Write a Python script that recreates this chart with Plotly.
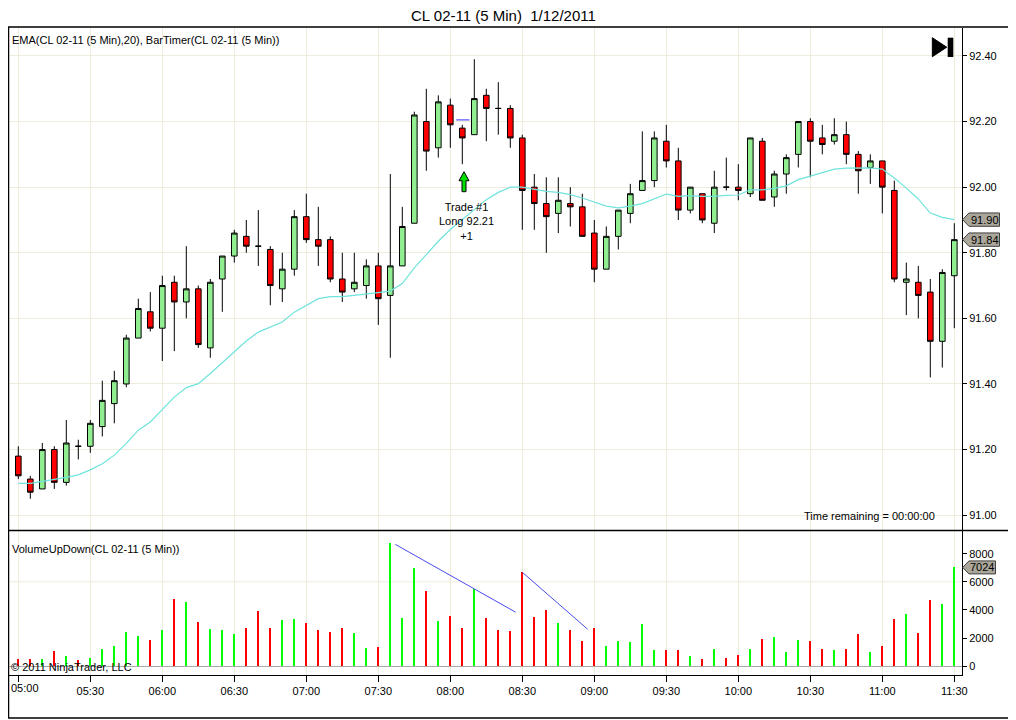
import plotly.graph_objects as go

# ---------------------------------------------------------------
# data: CL 02-11, 5 min bars, 1/12/2011 05:00-11:30
# ---------------------------------------------------------------
TIME_LABELS = ["05:00", "05:30", "06:00", "06:30", "07:00", "07:30", "08:00",
               "08:30", "09:00", "09:30", "10:00", "10:30", "11:00", "11:30"]

opens = [91.18, 91.11, 91.08, 91.20, 91.10, 91.21, 91.21, 91.27, 91.34, 91.40,
         91.54, 91.62, 91.57, 91.71, 91.65, 91.69, 91.51, 91.72, 91.79, 91.85,
         91.82, 91.81, 91.69, 91.75, 91.91, 91.84, 91.84, 91.72, 91.69, 91.70,
         91.76, 91.67, 91.76, 91.89, 92.20, 92.12, 92.25, 92.18, 92.16, 92.28,
         92.24, 92.24, 92.15, 92.00, 91.95, 91.92, 91.95, 91.94, 91.86, 91.75,
         91.85, 91.92, 91.99, 92.02, 92.14, 92.08, 91.93, 91.98, 91.89, 92.00,
         92.00, 91.98, 92.14, 91.97, 92.04, 92.10, 92.20, 92.15, 92.14, 92.16,
         92.10, 92.06, 92.08, 91.99, 91.71, 91.71, 91.68, 91.53, 91.73]
highs = [91.21, 91.12, 91.22, 91.21, 91.29, 91.23, 91.29, 91.41, 91.44, 91.55,
         91.66, 91.68, 91.73, 91.73, 91.82, 91.70, 91.72, 91.79, 91.87, 91.90,
         91.93, 91.82, 91.80, 91.93, 91.98, 91.94, 91.85, 91.80, 91.80, 91.78,
         91.80, 92.04, 91.94, 92.23, 92.30, 92.28, 92.27, 92.19, 92.39, 92.30,
         92.32, 92.25, 92.16, 92.04, 92.03, 92.03, 92.00, 91.98, 91.90, 91.88,
         91.93, 92.01, 92.17, 92.17, 92.19, 92.12, 92.00, 91.98, 92.05, 92.09,
         92.07, 92.15, 92.15, 92.05, 92.10, 92.20, 92.21, 92.19, 92.21, 92.20,
         92.11, 92.10, 92.08, 92.02, 91.77, 91.76, 91.72, 91.75, 91.89]
lows = [91.11, 91.05, 91.08, 91.08, 91.09, 91.17, 91.19, 91.24, 91.28, 91.39,
        91.54, 91.56, 91.47, 91.50, 91.60, 91.51, 91.48, 91.62, 91.77, 91.80,
        91.76, 91.64, 91.65, 91.73, 91.83, 91.76, 91.71, 91.65, 91.68, 91.66,
        91.58, 91.48, 91.76, 91.89, 92.05, 92.09, 92.12, 92.07, 92.16, 92.14,
        92.16, 92.12, 91.87, 91.87, 91.80, 91.86, 91.88, 91.85, 91.71, 91.75,
        91.81, 91.89, 91.99, 92.00, 92.06, 91.90, 91.92, 91.89, 91.86, 91.99,
        91.96, 91.97, 91.96, 91.94, 91.98, 92.06, 92.03, 92.10, 92.13, 92.07,
        91.98, 92.01, 91.92, 91.71, 91.61, 91.60, 91.42, 91.45, 91.57]
closes = [91.12, 91.07, 91.20, 91.10, 91.22, 91.21, 91.28, 91.35, 91.41, 91.54,
          91.63, 91.57, 91.70, 91.65, 91.69, 91.52, 91.71, 91.79, 91.86, 91.82,
          91.82, 91.70, 91.75, 91.91, 91.84, 91.82, 91.72, 91.68, 91.71, 91.76,
          91.66, 91.76, 91.88, 92.22, 92.11, 92.26, 92.19, 92.15, 92.27, 92.24,
          92.24, 92.15, 91.99, 91.95, 91.91, 91.96, 91.94, 91.85, 91.75, 91.85,
          91.93, 91.98, 92.02, 92.15, 92.08, 91.93, 92.00, 91.90, 92.00, 92.00,
          91.99, 92.15, 91.96, 92.04, 92.09, 92.20, 92.14, 92.13, 92.16, 92.10,
          92.05, 92.08, 92.00, 91.72, 91.72, 91.67, 91.53, 91.74, 91.84]

# EMA(20) as drawn on the chart
ema20 = [91.097, 91.097, 91.103, 91.108, 91.115, 91.123, 91.138, 91.157, 91.183,
         91.219, 91.259, 91.284, 91.323, 91.360, 91.389, 91.401, 91.432, 91.466,
         91.500, 91.531, 91.558, 91.574, 91.589, 91.619, 91.639, 91.660, 91.666,
         91.666, 91.670, 91.674, 91.678, 91.683, 91.706, 91.754, 91.794, 91.835,
         91.871, 91.901, 91.931, 91.962, 91.984, 92.000, 92.000, 91.994, 91.987,
         91.984, 91.977, 91.967, 91.954, 91.942, 91.937, 91.942, 91.950, 91.964,
         91.979, 91.972, 91.974, 91.972, 91.972, 91.975, 91.976, 91.992, 91.992,
         91.996, 92.004, 92.023, 92.033, 92.043, 92.055, 92.058, 92.058, 92.059,
         92.055, 92.028, 91.997, 91.964, 91.921, 91.908, 91.901]

volume = [450, 520, 450, 1020, 730, 380, 590, 1230, 1440, 2370,
          2150, 1800, 2510, 4780, 4500, 3080, 2650, 2580, 2230, 2720,
          3930, 2720, 3290, 3360, 3010, 2510, 2370, 2720, 2300, 1300,
          1370, 8690, 3430, 6980, 5350, 3220, 3570, 2720, 5490, 3430,
          2510, 2440, 6650, 3500, 4000, 3010, 2510, 1730, 2720, 1440,
          1730, 1660, 2940, 1160, 1090, 1090, 730, 520, 1230, 590,
          800, 1230, 1940, 2080, 950, 1870, 1730, 1230, 1090, 1230,
          2230, 950, 1440, 3360, 3650, 2300, 4710, 4360, 7024]

# trade #1 (long 92.21 on the 08:05 bar) and the two lines drawn on volume
TRADE_BAR = 37
TRADE_PRICE = 92.21
vol_line1_x = [31.42, 41.45]
vol_line1_y = [8660, 3840]
vol_line2_x = [42.0, 47.45]
vol_line2_y = [6680, 2630]

PRICE_TICKS = [91.00, 91.20, 91.40, 91.60, 91.80, 92.00, 92.20, 92.40]
VOL_TICKS = [0, 2000, 4000, 6000, 8000]

# ---------------------------------------------------------------
# geometry, in screen pixels of the 1016x720 window
# (the page body has an 8px margin, so the figure starts at 8,8)
# ---------------------------------------------------------------
W, H = 1016, 720
SHIFT = 8
PL, R, T, B = 8, 962, 28, 675         # plot area on screen
PX_PER_BAR = 12.0
X0_PX = 18.3                          # centre of bar 0
PRICE_PER_PX = 0.2 / 65.73
P_REF, P_REF_PX = 92.40, 56.0
VOL_PER_PX = 8000 / 112.6
VOL0_PX = 666.3
SPLIT_PX = 530.5

bars = list(range(len(opens)))


def px_x(px):
    return (px - X0_PX) / PX_PER_BAR


def px_price(py):
    return P_REF - (py - P_REF_PX) * PRICE_PER_PX


def px_vol(py):
    return (VOL0_PX - py) * VOL_PER_PX


def paper_x(px):
    return (px - PL) / (R - PL)


def paper_y(py):
    return (B - py) / (B - T)


GRID = "#efecdc"
GREEN_BODY = "#90ee90"
RED = "#ff0000"
LIME = "#00ff00"
FONT = "Liberation Sans"

fig = go.Figure()

fig.add_trace(go.Candlestick(
    x=bars, open=opens, high=highs, low=lows, close=closes,
    increasing=dict(line=dict(color="black", width=1), fillcolor=GREEN_BODY),
    decreasing=dict(line=dict(color="black", width=1), fillcolor=RED),
    whiskerwidth=0, showlegend=False, xaxis="x", yaxis="y",
))

fig.add_trace(go.Scatter(
    x=bars, y=ema20, mode="lines", line=dict(color="#6fe3dc", width=1.2),
    showlegend=False, hoverinfo="skip", xaxis="x", yaxis="y",
))

# entry marker line
fig.add_trace(go.Scatter(
    x=[TRADE_BAR - 0.5, TRADE_BAR + 0.6], y=[TRADE_PRICE - 0.005] * 2,
    mode="lines", line=dict(color="#3030ff", width=1),
    showlegend=False, hoverinfo="skip", xaxis="x", yaxis="y",
))

vol_colors = [LIME if c > o else RED for o, c in zip(opens, closes)]
fig.add_trace(go.Bar(
    x=bars, y=volume, width=0.17, marker=dict(color=vol_colors, line_width=0),
    showlegend=False, xaxis="x2", yaxis="y2",
))

for lx, ly in [(vol_line1_x, vol_line1_y), (vol_line2_x, vol_line2_y)]:
    fig.add_trace(go.Scatter(
        x=lx, y=ly, mode="lines", line=dict(color="#4a4af0", width=1),
        showlegend=False, hoverinfo="skip", xaxis="x2", yaxis="y2",
    ))

tick_bars = [i * 6 for i in range(len(TIME_LABELS))]
# the first label would spill past the left edge, it is drawn as an annotation
tick_text = [""] + TIME_LABELS[1:]
x_range = [px_x(PL), px_x(R)]
split_top = paper_y(SPLIT_PX)

fig.update_layout(
    width=W - SHIFT, height=H - SHIFT,
    margin=dict(l=PL - SHIFT, r=W - R, t=T - SHIFT, b=H - B, pad=0),
    paper_bgcolor="white", plot_bgcolor="white",
    font=dict(family=FONT, size=11, color="black"),
    boxgap=0.33,
    bargap=0,
    xaxis=dict(domain=[0, 1], range=x_range, anchor="y",
               tickvals=tick_bars, showticklabels=False, ticks="",
               showgrid=True, gridcolor=GRID, gridwidth=1,
               zeroline=False, showline=False,
               rangeslider=dict(visible=False)),
    yaxis=dict(domain=[split_top + 0.0015, 1],
               range=[px_price(SPLIT_PX), px_price(T)],
               anchor="x", side="right",
               tickvals=PRICE_TICKS, ticktext=["%.2f" % v for v in PRICE_TICKS],
               ticks="outside", ticklen=4, tickcolor="black",
               showline=True, linecolor="black", linewidth=1,
               showgrid=True, gridcolor=GRID, zeroline=False),
    xaxis2=dict(domain=[0, 1], range=x_range, anchor="y2", matches="x",
                tickvals=tick_bars, ticktext=tick_text,
                ticks="outside", ticklen=6, tickcolor="black",
                showline=True, linecolor="black", linewidth=1,
                showgrid=True, gridcolor=GRID, zeroline=False),
    yaxis2=dict(domain=[0, split_top - 0.0015],
                range=[px_vol(B), px_vol(SPLIT_PX + 1)],
                anchor="x2", side="right",
                tickvals=VOL_TICKS, ticktext=[str(v) for v in VOL_TICKS],
                ticks="outside", ticklen=4, tickcolor="black",
                showline=True, linecolor="black", linewidth=1,
                showgrid=False, zeroline=True, zerolinecolor="#a8a8a8",
                zerolinewidth=1),
)

shapes = []
# gridline at 6000 in the volume panel
shapes.append(dict(type="line", xref="paper", yref="y2", x0=0, x1=1, y0=6000, y1=6000,
                   line=dict(color=GRID, width=1), layer="below"))
# outer frame and panel separator
shapes.append(dict(type="rect", xref="paper", yref="paper",
                   x0=paper_x(8.5), x1=paper_x(1014), y0=paper_y(718), y1=paper_y(27),
                   line=dict(color="black", width=1.5)))
shapes.append(dict(type="line", xref="paper", yref="paper",
                   x0=paper_x(8), x1=paper_x(1014), y0=split_top, y1=split_top,
                   line=dict(color="black", width=1.5)))

# bar timer icon (play / end)
tri = "M {:.4f} {:.4f} L {:.4f} {:.4f} L {:.4f} {:.4f} Z".format(
    paper_x(932.3), paper_y(37.7), paper_x(946.7), paper_y(47.2),
    paper_x(932.3), paper_y(56.7))
shapes.append(dict(type="path", xref="paper", yref="paper", path=tri,
                   fillcolor="black", line=dict(color="black", width=1)))
shapes.append(dict(type="rect", xref="paper", yref="paper",
                   x0=paper_x(947.7), x1=paper_x(953.3), y0=paper_y(57), y1=paper_y(37.7),
                   fillcolor="black", line=dict(color="black", width=0)))

# trade arrow (green block arrow under the entry bar)
ax = px_x(464)
hw = 5 / PX_PER_BAR
sw = 2 / PX_PER_BAR
tip, neck, base = px_price(172), px_price(181), px_price(192)
arrow = ("M {a:.3f} {t:.4f} L {r:.3f} {n:.4f} L {rs:.3f} {n:.4f} L {rs:.3f} {b:.4f} "
         "L {ls:.3f} {b:.4f} L {ls:.3f} {n:.4f} L {l:.3f} {n:.4f} Z").format(
    a=ax, t=tip, r=ax + hw, n=neck, rs=ax + sw, b=base, ls=ax - sw, l=ax - hw)
shapes.append(dict(type="path", xref="x", yref="y", path=arrow,
                   fillcolor="#00e000", line=dict(color="black", width=1)))


def price_tag(yref, value, half_h, right_px):
    path = ("M {tip:.4f} {v} L {bl:.4f} {top} L {br:.4f} {top} L {br:.4f} {bot} "
            "L {bl:.4f} {bot} Z").format(
        tip=paper_x(962.7), bl=paper_x(969), br=paper_x(right_px),
        v=value, top=value + half_h, bot=value - half_h)
    return dict(type="path", xref="paper", yref=yref, path=path,
                fillcolor="#aaa69a", line=dict(color="#404040", width=1))


half_p = 6.7 * PRICE_PER_PX
half_v = 6.5 * VOL_PER_PX
shapes.append(price_tag("y", ema20[-1], half_p, 999.5))
shapes.append(price_tag("y", closes[-1], half_p, 999.5))
shapes.append(price_tag("y2", volume[-1], half_v, 995.5))

fig.update_layout(shapes=shapes)

annotations = [
    dict(text="CL 02-11 (5 Min)  1/12/2011", xref="paper", yref="paper",
         x=paper_x(503), y=paper_y(16), xanchor="center", yanchor="middle",
         showarrow=False, font=dict(size=15)),
    dict(text="EMA(CL 02-11 (5 Min),20), BarTimer(CL 02-11 (5 Min))",
         xref="paper", yref="paper", x=paper_x(10), y=paper_y(40),
         xanchor="left", yanchor="middle", showarrow=False),
    dict(text="VolumeUpDown(CL 02-11 (5 Min))", xref="paper", yref="paper",
         x=paper_x(10), y=paper_y(549), xanchor="left", yanchor="middle",
         showarrow=False),
    dict(text="© 2011 NinjaTrader, LLC", xref="paper", yref="paper",
         x=paper_x(9), y=paper_y(667), xanchor="left", yanchor="middle",
         showarrow=False),
    dict(text=TIME_LABELS[0], xref="paper", yref="paper",
         x=paper_x(9), y=paper_y(688), xanchor="left", yanchor="middle",
         showarrow=False),
    dict(text="Time remaining = 00:00:00", xref="paper", yref="paper",
         x=paper_x(937), y=paper_y(516), xanchor="right", yanchor="middle",
         showarrow=False),
    dict(text="Trade #1<br>Long %.2f<br>+1" % TRADE_PRICE, xref="x", yref="y",
         x=px_x(466), y=px_price(222), xanchor="center", yanchor="middle",
         showarrow=False, font=dict(size=11)),
    dict(text="%.2f" % ema20[-1], xref="paper", yref="y", x=paper_x(984.5),
         y=ema20[-1], xanchor="center", yanchor="middle", showarrow=False),
    dict(text="%.2f" % closes[-1], xref="paper", yref="y", x=paper_x(984.5),
         y=closes[-1], xanchor="center", yanchor="middle", showarrow=False),
    dict(text=str(volume[-1]), xref="paper", yref="y2", x=paper_x(982.5),
         y=volume[-1], xanchor="center", yanchor="middle", showarrow=False),
]
fig.update_layout(annotations=annotations)

fig.write_html("out.html")
